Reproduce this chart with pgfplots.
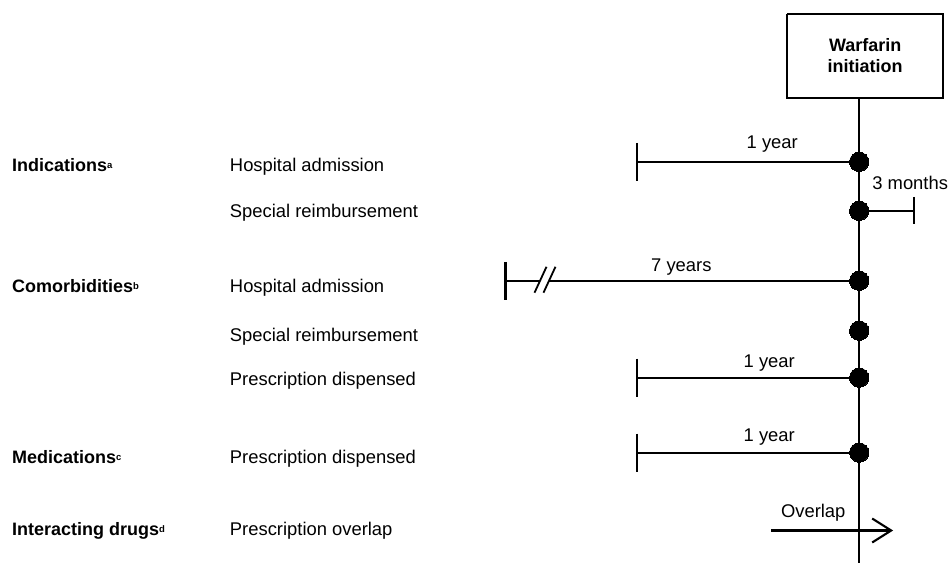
\documentclass[border=0pt]{standalone}
\usepackage{pgfplots}
\pgfplotsset{compat=1.18}
\usepackage{fontspec}
\setmainfont{Liberation Sans}
\newcommand\fs{\fontsize{18.4bp}{21bp}\selectfont}
\newcommand\fb{\fontsize{18bp}{21bp}\selectfont\bfseries}
\newcommand\sups[1]{\raisebox{3bp}{\fontsize{9.5bp}{10bp}\selectfont\bfseries #1}}
\begin{document}
\begin{tikzpicture}
\begin{axis}[
  hide axis, scale only axis, width=948bp, height=564bp,
  xmin=0, xmax=948, ymin=0, ymax=564, y dir=reverse, clip=false,
  cycle list={{black,solid,mark=none}},
  ln/.style={black, solid, line width=2.1bp, mark=none},
  nodes={inner sep=0pt, font=\fs}
]
\path (axis cs:0,0) rectangle (axis cs:948,564);
% box
\addplot[ln, line join=miter] coordinates {(788,14) (944,14) (944,98) (788,98) (788,14)};
% main vertical line
\addplot[ln] coordinates {(860,98) (860,564)};
% 1 year rows
\addplot[ln] coordinates {(638,162) (860,162)};
\addplot[ln] coordinates {(638,143) (638,181)};
\addplot[ln] coordinates {(638,378) (860,378)};
\addplot[ln] coordinates {(638,359) (638,397)};
\addplot[ln] coordinates {(638,453) (860,453)};
\addplot[ln] coordinates {(638,434) (638,472)};
% 3 months
\addplot[ln] coordinates {(860,211) (915,211)};
\addplot[ln] coordinates {(915,197) (915,224)};
% 7 years with break
\addplot[ln] coordinates {(506,281) (540.5,281)};
\addplot[ln] coordinates {(549.5,281) (860,281)};
\addplot[ln] coordinates {(506,262) (506,300)};
\addplot[ln, line width=1.8bp] coordinates {(535,293) (547,267)};
\addplot[ln, line width=1.8bp] coordinates {(544,293) (556,267)};
% overlap arrow
\addplot[ln] coordinates {(772,531) (891,531)};
\addplot[ln, line join=miter] coordinates {(873,519) (892,531) (873,543)};
% dots
\addplot[black, only marks, mark=*, mark size=9.7bp, mark options={fill=black, draw=black, line width=0pt}] coordinates {(860,162) (860,211) (860,281) (860,331) (860,378) (860,453)};
% box text
\node[anchor=base, font=\fb] at (axis cs:866,52) {Warfarin};
\node[anchor=base, font=\fb] at (axis cs:866,73) {initiation};
% interval labels
\node[anchor=base] at (axis cs:773,149) {1 year};
\node[anchor=base west] at (axis cs:873,190) {3 months};
\node[anchor=base] at (axis cs:682,272) {7 years};
\node[anchor=base] at (axis cs:770,368) {1 year};
\node[anchor=base] at (axis cs:770,442) {1 year};
\node[anchor=base] at (axis cs:814,518) {Overlap};
% left labels
\node[anchor=base west, font=\fb] at (axis cs:12,172) {Indications\sups{a}};
\node[anchor=base west, font=\fb] at (axis cs:12,293) {Comorbidities\sups{b}};
\node[anchor=base west, font=\fb] at (axis cs:12,464) {Medications\sups{c}};
\node[anchor=base west, font=\fb] at (axis cs:12,536) {Interacting drugs\sups{d}};
% second column
\node[anchor=base west] at (axis cs:230,172) {Hospital admission};
\node[anchor=base west] at (axis cs:230,218) {Special reimbursement};
\node[anchor=base west] at (axis cs:230,293) {Hospital admission};
\node[anchor=base west] at (axis cs:230,342) {Special reimbursement};
\node[anchor=base west] at (axis cs:230,386) {Prescription dispensed};
\node[anchor=base west] at (axis cs:230,464) {Prescription dispensed};
\node[anchor=base west] at (axis cs:230,536) {Prescription overlap};
\end{axis}
\end{tikzpicture}
\end{document}
